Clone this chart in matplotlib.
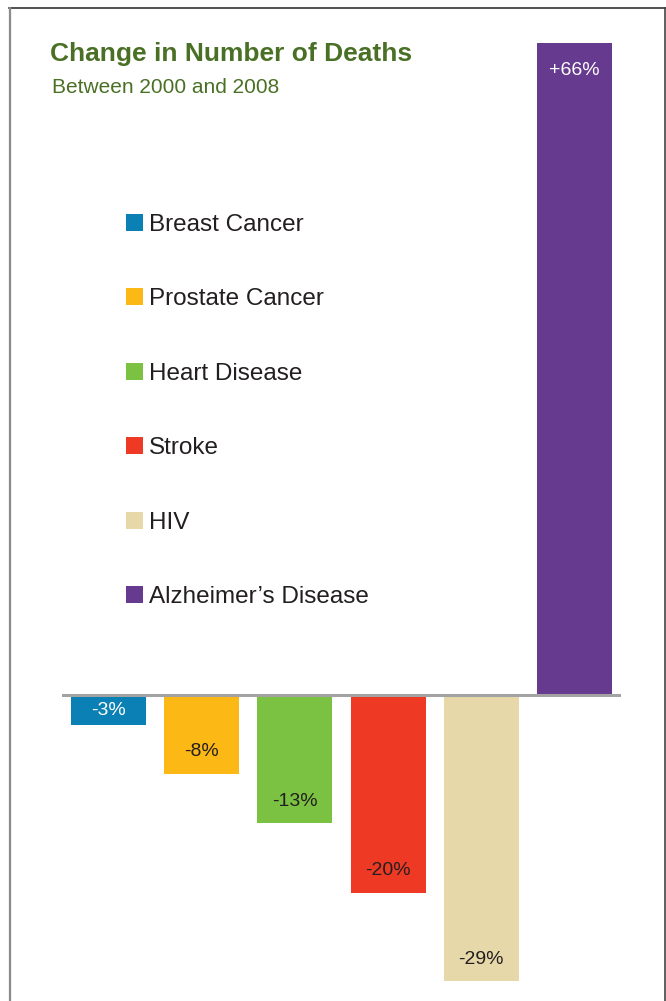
import matplotlib
matplotlib.use("Agg")
import matplotlib.pyplot as plt
from matplotlib.lines import Line2D
from matplotlib.patches import Rectangle

plt.rcParams['font.family'] = ['Liberation Sans', 'DejaVu Sans']

categories = ["Breast Cancer", "Prostate Cancer", "Heart Disease", "Stroke", "HIV", "Alzheimer\u2019s Disease"]
values = [-3, -8, -13, -20, -29, 66]
labels = ["-3%", "-8%", "-13%", "-20%", "-29%", "+66%"]
colors = ["#0a80b4", "#fcb814", "#7bc142", "#ee3a25", "#e6d8a9", "#663a8e"]

title = "Change in Number of Deaths"
subtitle = "Between 2000 and 2008"
green = "#4a7025"
text_dark = "#231f20"

W, H = 666, 1001
fig = plt.figure(figsize=(W / 100, H / 100), dpi=100)

# axes: baseline at y=695px, +66 at y=43px
px_per_unit = (695 - 43) / 66
ymin = -(H - 695) / px_per_unit
ax = fig.add_axes([62 / W, 0, (621 - 62) / W, (H - 43) / H])
ax.set_xlim(-0.5, len(values) - 0.5)
ax.set_ylim(ymin, 66)
ax.axis("off")

x = list(range(len(values)))
ax.bar(x, values, width=0.805, color=colors, zorder=2)
ax.axhline(0, color="#a3a3a3", lw=2.2, zorder=3)

for i, (v, lab) in enumerate(zip(values, labels)):
    if v > 0:
        ax.annotate(lab, (i, v), xytext=(0, -19.5), textcoords="offset points",
                    ha="center", va="center", color="white", fontsize=14, zorder=4)
    elif i == 0:
        ax.annotate(lab, (i, v / 2), xytext=(0, -0.5), textcoords="offset points",
                    ha="center", va="center", color="white", fontsize=14, zorder=4)
    else:
        ax.annotate(lab, (i, v), xytext=(0, 16), textcoords="offset points",
                    ha="center", va="center", color=text_dark, fontsize=14, zorder=4)

# title
fig.text(50 / W, 1 - 61 / H, title, fontsize=19, fontweight="bold", color=green,
         ha="left", va="baseline")
fig.text(52 / W, 1 - 93 / H, subtitle, fontsize=15, color=green,
         ha="left", va="baseline")

# legend
y0, y1 = 231, 603
step = (y1 - y0) / (len(categories) - 1)
for k, (cat, col) in enumerate(zip(categories, colors)):
    yb = y0 + k * step
    fig.add_artist(Rectangle((126 / W, 1 - yb / H), 16.5 / W, 17 / H,
                             transform=fig.transFigure, color=col, lw=0))
    fig.text(149 / W, 1 - yb / H, cat, fontsize=17.5, color=text_dark,
             ha="left", va="baseline")

# frame
fig.add_artist(Line2D([9 / W, 665.5 / W], [1 - 8 / H, 1 - 8 / H], color="#333333", lw=1.2,
                      transform=fig.transFigure))
fig.add_artist(Line2D([9.5 / W, 9.5 / W], [0, 1 - 8 / H], color="#8a8a8a", lw=1.6,
                      transform=fig.transFigure))
fig.add_artist(Line2D([665 / W, 665 / W], [0, 1 - 8 / H], color="#444444", lw=1.2,
                      transform=fig.transFigure))

fig.savefig("out.png", dpi=100)
